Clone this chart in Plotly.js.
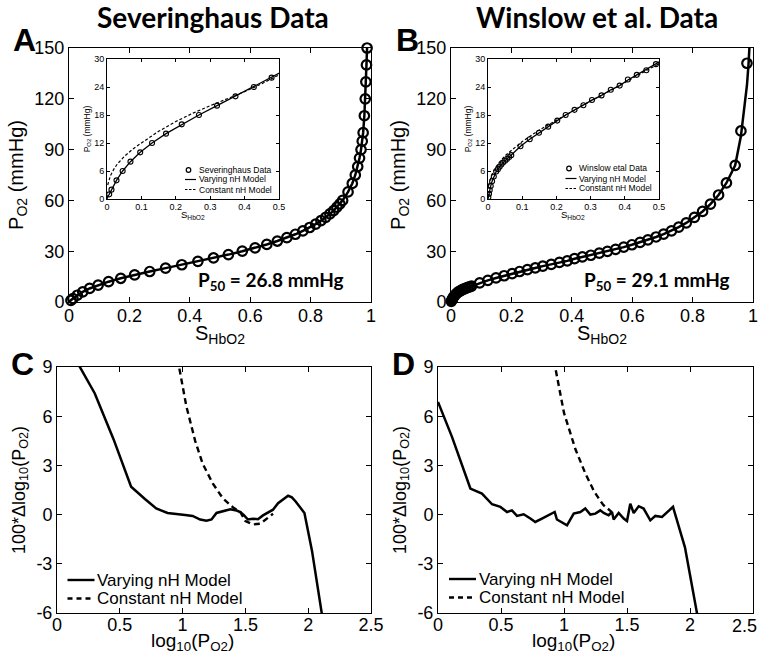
<!DOCTYPE html>
<html><head><meta charset="utf-8">
<script src="https://cdn.plot.ly/plotly-3.0.1.min.js"></script>
<style>html,body{margin:0;padding:0;background:#fff}#chart{width:764px;height:664px}</style>
</head><body><div id="chart"></div><script>
// ---------- Panel A: Severinghaus data ----------
var sevS = [0.0064,0.0130,0.0276,0.0455,0.0682,0.0965,0.1310,0.1715,0.2173,0.2672,0.3198,0.3735,0.4268,0.4785,0.5278,0.5738,0.6162,0.6549,0.6899,0.7213,0.7495,0.7745,0.7968,0.8167,0.8343,0.8499,0.8638,0.8762,0.8872,0.8970,0.906,0.924,0.938,0.948,0.956,0.962,0.967,0.971,0.974,0.978,0.981,0.983,0.985,0.987];
var sevP = [1,2,4,6,8,10,12,14,16,18,20,22,24,26,28,30,32,34,36,38,40,42,44,46,48,50,52,54,56,58,60,65,70,75,80,85,90,95,100,110,120,130,140,150];
var modelA_S = [0,0.002,0.0064,0.013,0.0276,0.0455,0.0682,0.0965,0.131,0.1715,0.2173,0.2672,0.3198,0.3735,0.4268,0.4785,0.5278,0.5738,0.6162,0.6549,0.6899,0.7213,0.7495,0.7745,0.7968,0.8167,0.8343,0.8499,0.8638,0.8762,0.8872,0.897,0.906,0.924,0.938,0.948,0.956,0.962,0.967,0.971,0.974,0.978,0.981,0.983,0.985,0.987,0.989];
var modelA_P = [0,0.5,1,2,4,6,8,10,12,14,16,18,20,22,24,26,28,30,32,34,36,38,40,42,44,46,48,50,52,54,56,58,60,65,70,75,80,85,90,95,100,110,120,130,140,150,162];
var constA_S = [0.002,0.005,0.01,0.02,0.03,0.05,0.075,0.1,0.15,0.2,0.25,0.3,0.35,0.4,0.45,0.5];
var constA_P = [3.0,4.0,5.0,6.4,7.5,9.1,10.7,12.0,14.5,16.6,18.4,20.0,21.5,23.0,24.7,26.6];

// ---------- Panel B: Winslow et al. data ----------
var winS = [0.001,0.003,0.005,0.008,0.012,0.017,0.024,0.029,0.034,0.039,0.044,0.050,0.056,0.062,0.068,0.095,0.122,0.149,0.176,0.2025,0.227,0.253,0.279,0.304,0.332,0.359,0.385,0.409,0.435,0.463,0.491,0.518,0.545,0.572,0.599,0.626,0.652,0.679,0.704,0.730,0.754,0.779,0.806,0.833,0.859,0.886,0.912,0.941,0.960,0.980];
var winP = [0.4,1.1,1.9,2.8,3.8,4.8,5.9,6.4,6.9,7.4,7.8,8.2,8.6,9.0,9.4,11.3,12.8,14.2,15.5,16.8,18.0,19.1,20.1,21.2,22.2,23.4,24.3,25.6,26.6,27.6,28.9,29.9,31.1,32.4,33.8,35.2,36.7,38.4,40.1,42.0,44.2,46.7,50.0,53.5,57.8,63.2,70.3,80.7,101,141];
var modelB_S = [0,0.001,0.003,0.005,0.008,0.012,0.017,0.024,0.034,0.044,0.056,0.068,0.095,0.122,0.149,0.176,0.2025,0.227,0.253,0.279,0.304,0.332,0.359,0.385,0.409,0.435,0.463,0.491,0.518,0.545,0.572,0.599,0.626,0.652,0.679,0.704,0.730,0.754,0.779,0.806,0.833,0.859,0.886,0.912,0.941,0.960,0.972,0.980,0.985,0.989];
var modelB_P = [0,0.4,1.1,1.9,2.8,3.8,4.8,5.9,6.9,7.8,8.6,9.4,11.3,12.8,14.2,15.5,16.8,18.0,19.1,20.1,21.2,22.2,23.4,24.3,25.5,26.6,27.7,28.9,29.9,31.1,32.4,33.8,35.2,36.7,38.4,40.1,42.0,44.2,46.7,50.0,53.5,57.8,63.2,70.3,80.7,98,114,128,140,153];
var constB_S = [0.002,0.005,0.01,0.02,0.03,0.05,0.075,0.1,0.15,0.2,0.25,0.3,0.35,0.4,0.45,0.5];
var constB_P = [2.9,3.9,5.0,6.5,7.6,9.3,10.9,12.3,14.8,16.9,18.9,21.0,22.9,25.0,27.0,29.0];

// ---------- Panel C: residuals, Severinghaus ----------
var resC_varX = [0.16,0.30,0.45,0.59,0.70,0.79,0.88,0.95,1.02,1.08,1.14,1.19,1.23,1.27,1.32,1.38,1.43,1.46,1.49,1.52,1.56,1.60,1.64,1.68,1.72,1.76,1.80,1.84,1.87,1.90,1.97,2.03,2.12];
var resC_varY = [9.3,7.4,4.6,1.7,0.95,0.37,0.1,0.02,-0.02,-0.08,-0.3,-0.38,-0.3,0.1,0.2,0.33,0.25,0.15,-0.05,-0.3,-0.25,-0.28,-0.05,0.1,0.3,0.7,0.95,1.15,1.05,0.8,0.1,-2.2,-6.6];
var resC_constX = [0.96,1.03,1.10,1.16,1.24,1.32,1.40,1.46,1.50,1.56,1.62,1.67,1.72];
var resC_constY = [9.5,6.6,4.5,3.1,1.9,1.0,0.45,0.15,-0.4,-0.6,-0.55,-0.25,0.05];

// ---------- Panel D: residuals, Winslow ----------
var resD_varX = [0,0.111,0.257,0.349,0.429,0.495,0.548,0.587,0.627,0.68,0.733,0.772,0.825,0.878,0.926,0.944,1.024,1.077,1.13,1.169,1.209,1.249,1.288,1.315,1.354,1.381,1.394,1.434,1.474,1.5,1.526,1.553,1.593,1.632,1.685,1.725,1.778,1.865,1.96,2.06];
var resD_varY = [6.87,4.74,1.59,1.28,0.63,0.47,0.16,0.26,-0.08,0.02,-0.24,-0.45,-0.24,-0.04,0.16,-0.3,-0.65,0.06,0.16,0.37,0,0.06,0.26,0.1,-0.04,0.16,-0.3,0.1,-0.24,-0.39,0.67,0.1,0.51,0.37,-0.35,-0.08,-0.14,0.47,-2.0,-6.2];
var resD_constX = [0.92,1.0,1.09,1.17,1.24,1.31,1.38];
var resD_constY = [9.4,6.2,4.0,2.5,1.4,0.6,0.15];

// ---------- labels ----------
var panelTitles = ['Severinghaus Data', 'Winslow et al. Data'];
var panelLetters = ['A', 'B', 'C', 'D'];
var p50Labels = ['P<sub>50</sub> = 26.8 mmHg', 'P<sub>50</sub> = 29.1 mmHg'];
var insetLegendA = ['Severinghaus Data', 'Varying nH Model', 'Constant nH Model'];
var insetLegendB = ['Winslow etal Data', 'Varying nH Model', 'Constant nH Model'];
var resLegend = ['Varying nH Model', 'Constant nH Model'];
var satTitle = 'S<sub>HbO2</sub>';
var pressTitle = 'P<sub>O2</sub> (mmHg)';
var logTitle = 'log<sub>10</sub>(P<sub>O2</sub>)';
var resTitle = '100*Δlog<sub>10</sub>(P<sub>O2</sub>)';
var resTickVals = [-6, -3, 0, 3, 6, 9];
var resTickText = ['-6', '-3', '0', '3', '6', '9'];
var logTickVals = [0, 0.5, 1, 1.5, 2, 2.5];
var logTickTextC = ['0', '0.5', '1', '1.5', '2', '2.5'];
var logTickTextD = ['0', '0.5', '1', '1.5', '2', ''];
var lastLogLabel = '2.5';

// ---------- helpers (pixel -> paper) ----------
var W = 764, H = 664;
function fx(p){ return p / W; }
function fy(p){ return 1 - p / H; }
var FONT = 'Liberation Sans, Arial, sans-serif';
var BOLD = 'Lato, Open Sans, sans-serif';

function axis(domainPx, range, dtick, opts, isY){
  var a = {
    domain: isY ? [fy(domainPx[1]), fy(domainPx[0])] : [fx(domainPx[0]), fx(domainPx[1])],
    range: range, dtick: dtick, tick0: 0, autorange: false,
    showline: true, mirror: 'ticks', linecolor: '#000', linewidth: 1,
    ticks: 'inside', ticklen: opts.ticklen, tickwidth: 1, tickcolor: '#000',
    showgrid: false, zeroline: false, ticklabeloverflow: 'allow',
    tickfont: {family: FONT, size: opts.tickSize, color: '#000'},
    automargin: false, fixedrange: true
  };
  if (opts.anchor) a.anchor = opts.anchor;
  if (opts.standoffLabel !== undefined) a.ticklabelstandoff = opts.standoffLabel;
  if (opts.tickvals) { a.tickmode = 'array'; a.tickvals = opts.tickvals; a.ticktext = opts.ticktext; }
  if (opts.title) a.title = {text: opts.title, font: {family: FONT, size: opts.titleSize, color: '#000'}, standoff: opts.standoff};
  return a;
}

var mainTick = {ticklen: 5, tickSize: 18};
var insTick = {ticklen: 3, tickSize: 9};

var layout = {
  width: W, height: H,
  margin: {l: 0, r: 0, t: 0, b: 0},
  paper_bgcolor: '#fff', plot_bgcolor: 'rgba(0,0,0,0)',
  showlegend: false,
  xaxis:  axis([69, 371], [0, 1], 0.2, Object.assign({anchor: 'y', standoffLabel: -3}, mainTick), false),
  yaxis:  axis([48, 302], [0, 150], 30, Object.assign({anchor: 'x', title: pressTitle, titleSize: 20, standoff: 5}, mainTick), true),
  xaxis2: axis([107, 279], [0, 0.5], 0.1, Object.assign({anchor: 'y2', standoffLabel: -1}, insTick), false),
  yaxis2: axis([59, 199], [0, 30], 6, Object.assign({anchor: 'x2', title: pressTitle, titleSize: 8.5, standoff: 2}, insTick), true),
  xaxis3: axis([451, 753], [0, 1], 0.2, Object.assign({anchor: 'y3', standoffLabel: -3}, mainTick), false),
  yaxis3: axis([48, 302], [0, 150], 30, Object.assign({anchor: 'x3', title: pressTitle, titleSize: 20, standoff: 5}, mainTick), true),
  xaxis4: axis([488, 659], [0, 0.5], 0.1, Object.assign({anchor: 'y4', standoffLabel: -1}, insTick), false),
  yaxis4: axis([59, 199], [0, 30], 6, Object.assign({anchor: 'x4', title: pressTitle, titleSize: 8.5, standoff: 2}, insTick), true),
  xaxis5: axis([57, 371], [0, 2.5], 0.5, Object.assign({anchor: 'y5', standoffLabel: -5, tickvals: logTickVals, ticktext: logTickTextC}, mainTick), false),
  yaxis5: axis([367, 613], [-6, 9], 3, Object.assign({anchor: 'x5', title: resTitle, titleSize: 18, standoff: 6, tickvals: resTickVals, ticktext: resTickText}, mainTick), true),
  xaxis6: axis([438, 753], [0, 2.5], 0.5, Object.assign({anchor: 'y6', standoffLabel: -5, tickvals: logTickVals, ticktext: logTickTextD}, mainTick), false),
  yaxis6: axis([367, 613], [-6, 9], 3, Object.assign({anchor: 'x6', title: resTitle, titleSize: 18, standoff: 6, tickvals: resTickVals, ticktext: resTickText}, mainTick), true),
  annotations: [], shapes: []
};

function ann(text, xpx, ypx, font, xanchor){
  layout.annotations.push({text: text, x: fx(xpx), y: fy(ypx), xref: 'paper', yref: 'paper',
    xanchor: xanchor || 'center', yanchor: 'middle', showarrow: false, font: font});
}
var titleFont = {family: FONT, size: 20, color: '#000'};
// x-axis titles
ann(satTitle, 220, 335, titleFont);
ann(satTitle, 602, 335, titleFont);
ann(satTitle, 193, 215, {family: FONT, size: 9.5, color: '#000'});
ann(satTitle, 573, 215, {family: FONT, size: 9.5, color: '#000'});
ann(logTitle, 193, 642, {family: FONT, size: 19, color: '#000'});
ann(logTitle, 573, 642, {family: FONT, size: 19, color: '#000'});
ann(lastLogLabel, 744, 625.5, {family: FONT, size: 18, color: '#000'});
// titles
ann(panelTitles[0], 213, 17, {family: BOLD, size: 28, color: '#000', weight: 700});
ann(panelTitles[1], 597, 17, {family: BOLD, size: 28, color: '#000', weight: 700});
// letters
var letterPos = [[24, 40], [407, 40], [22, 364], [403, 364]];
panelLetters.forEach(function(l, i){ ann('<b>' + l + '</b>', letterPos[i][0], letterPos[i][1], {family: 'Liberation Sans, Arial', size: 32, color: '#000'}); });
// P50
ann('<b>' + p50Labels[0] + '</b>', 271, 281, {family: BOLD, size: 19, color: '#000'});
ann('<b>' + p50Labels[1] + '</b>', 657, 281, {family: BOLD, size: 19, color: '#000'});

// inset legends
function insetLegend(labels, x0, rows){
  var f = {family: FONT, size: 8.5, color: '#000'};
  layout.shapes.push({type: 'circle', xref: 'paper', yref: 'paper', x0: fx(x0 + 3.5 - 2.3), x1: fx(x0 + 3.5 + 2.3), y0: fy(rows[0] + 2.3), y1: fy(rows[0] - 2.3), line: {color: '#000', width: 1.2}});
  layout.shapes.push({type: 'line', xref: 'paper', yref: 'paper', x0: fx(x0), x1: fx(x0 + 11), y0: fy(rows[1]), y1: fy(rows[1]), line: {color: '#000', width: 1.2}});
  layout.shapes.push({type: 'line', xref: 'paper', yref: 'paper', x0: fx(x0), x1: fx(x0 + 11), y0: fy(rows[2]), y1: fy(rows[2]), line: {color: '#000', width: 1.2, dash: '2.5px,1.5px'}});
  labels.forEach(function(t, i){ ann(t, x0 + 11.5, rows[i], f, 'left'); });
}
insetLegend(insetLegendA, 185, [170, 179.5, 189.5]);
insetLegend(insetLegendB, 565.5, [168.5, 178.5, 188.5]);

function resLegendDraw(x0, rows){
  var f = {family: FONT, size: 17, color: '#000'};
  layout.shapes.push({type: 'line', xref: 'paper', yref: 'paper', x0: fx(x0), x1: fx(x0 + 27), y0: fy(rows[0]), y1: fy(rows[0]), line: {color: '#000', width: 2.4}});
  layout.shapes.push({type: 'line', xref: 'paper', yref: 'paper', x0: fx(x0), x1: fx(x0 + 27), y0: fy(rows[1]), y1: fy(rows[1]), line: {color: '#000', width: 2.4, dash: '5px,4px'}});
  resLegend.forEach(function(t, i){ ann(t, x0 + 27.5, rows[i], f, 'left'); });
}
resLegendDraw(67.5, [580, 598.5]);
resLegendDraw(449, [579, 597.5]);

// ---------- traces ----------
var mainMarker = {symbol: 'circle-open', size: 9.5, color: '#000', line: {color: '#000', width: 2.2}};
var insMarker = {symbol: 'circle-open', size: 5, color: '#000', line: {color: '#000', width: 1.1}};
var solidMain = {color: '#000', width: 2.5};
var solidIns = {color: '#000', width: 1.3};
var dashIns = {color: '#000', width: 1.2, dash: '3px,2px'};
var dashMain = {color: '#000', width: 2.4, dash: '6px,4px'};

var data = [
  {x: modelA_S, y: modelA_P, xaxis: 'x', yaxis: 'y', mode: 'lines', line: solidMain, name: 'Varying nH Model'},
  {x: sevS, y: sevP, xaxis: 'x', yaxis: 'y', mode: 'markers', marker: mainMarker, name: 'Severinghaus Data', cliponaxis: false},
  {x: modelA_S, y: modelA_P, xaxis: 'x2', yaxis: 'y2', mode: 'lines', line: solidIns, name: 'Varying nH Model'},
  {x: constA_S, y: constA_P, xaxis: 'x2', yaxis: 'y2', mode: 'lines', line: dashIns, name: 'Constant nH Model'},
  {x: sevS, y: sevP, xaxis: 'x2', yaxis: 'y2', mode: 'markers', marker: insMarker, name: 'Severinghaus Data'},

  {x: modelB_S, y: modelB_P, xaxis: 'x3', yaxis: 'y3', mode: 'lines', line: solidMain, name: 'Varying nH Model'},
  {x: winS, y: winP, xaxis: 'x3', yaxis: 'y3', mode: 'markers', marker: mainMarker, name: 'Winslow etal Data', cliponaxis: false},
  {x: modelB_S, y: modelB_P, xaxis: 'x4', yaxis: 'y4', mode: 'lines', line: solidIns, name: 'Varying nH Model'},
  {x: constB_S, y: constB_P, xaxis: 'x4', yaxis: 'y4', mode: 'lines', line: dashIns, name: 'Constant nH Model'},
  {x: winS, y: winP, xaxis: 'x4', yaxis: 'y4', mode: 'markers', marker: insMarker, name: 'Winslow etal Data'},

  {x: resC_varX, y: resC_varY, xaxis: 'x5', yaxis: 'y5', mode: 'lines', line: solidMain, name: 'Varying nH Model'},
  {x: resC_constX, y: resC_constY, xaxis: 'x5', yaxis: 'y5', mode: 'lines', line: dashMain, name: 'Constant nH Model'},
  {x: resD_varX, y: resD_varY, xaxis: 'x6', yaxis: 'y6', mode: 'lines', line: solidMain, name: 'Varying nH Model'},
  {x: resD_constX, y: resD_constY, xaxis: 'x6', yaxis: 'y6', mode: 'lines', line: dashMain, name: 'Constant nH Model'}
];

Plotly.newPlot('chart', data, layout, {displayModeBar: false, staticPlot: true});
</script></body></html>
